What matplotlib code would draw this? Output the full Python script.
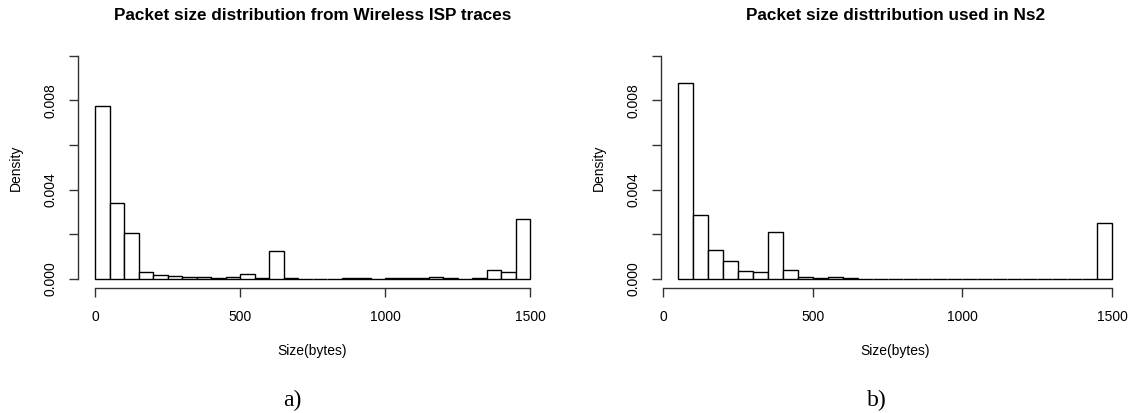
import numpy as np
import matplotlib.pyplot as plt

# bin layout (50-byte bins)
bin_width = 50
isp_start = 0
ns2_start = 50

# density per bin
isp_density = [0.00776, 0.00341, 0.00208, 0.00031, 0.00018, 0.000135, 0.00009, 0.00009,
               0.00006, 0.00009, 0.00022, 0.00003, 0.00127, 0.00003, 0.000015, 0.000015,
               0.000015, 0.000045, 0.00003, 0.000015, 0.000045, 0.00003, 0.000045, 0.000075,
               0.000045, 0.000015, 0.00003, 0.00042, 0.00031, 0.00271]
ns2_density = [0.00878, 0.00286, 0.00130, 0.00082, 0.00037, 0.00033, 0.00209, 0.00042,
               0.00009, 0.00006, 0.00009, 0.00003, 0.00002, 0.00002, 0.00001, 0.00001,
               0.00001, 0.00002, 0.00001, 0.00001, 0.00002, 0.00001, 0.00001, 0.00001,
               0.00001, 0.00001, 0.00001, 0.00001, 0.00250]

titles = ['Packet size distribution from Wireless ISP traces',
          'Packet size disttribution used in Ns2']
captions = ['a)', 'b)']
xticks = [0, 500, 1000, 1500]
yticks = [0.0, 0.002, 0.004, 0.006, 0.008, 0.010]
ytick_labels = ['0.000', '', '0.004', '', '0.008', '']

plt.rcParams['font.family'] = ['Liberation Sans', 'DejaVu Sans']

fig = plt.figure(figsize=(11.32, 4.13), dpi=100)
ax1 = fig.add_axes([0.0686, 0.3027, 0.415, 0.584])
ax2 = fig.add_axes([0.5837, 0.3027, 0.414, 0.584])

panels = [(ax1, isp_start, isp_density), (ax2, ns2_start, ns2_density)]
for i, (ax, start, dens) in enumerate(panels):
    lefts = start + bin_width * np.arange(len(dens))
    ax.bar(lefts, dens, width=bin_width, align='edge', color='white',
           edgecolor='black', linewidth=1.0)
    span = 1500 - start
    ax.set_xlim(start - 0.04 * span, 1500 + 0.04 * span)
    ax.set_ylim(-0.0004, 0.0104)

    for s in ['top', 'right']:
        ax.spines[s].set_visible(False)
    ax.spines['left'].set_bounds(0, 0.010)
    ax.spines['bottom'].set_bounds(0, 1500)
    for s in ['left', 'bottom']:
        ax.spines[s].set_color('#333333')
        ax.spines[s].set_linewidth(1.0)

    ax.set_xticks(xticks)
    ax.set_yticks(yticks)
    ax.set_yticklabels(ytick_labels, rotation=90, va='center')
    ax.tick_params(axis='both', direction='out', length=6.5, width=1.0,
                   color='#333333', labelsize=10, pad=8)
    ax.tick_params(axis='x', pad=9)

    ax.set_xlabel('Size(bytes)', fontsize=10, labelpad=14.5)
    ax.set_ylabel('Density', fontsize=10, labelpad=15)
    ax.set_title(titles[i], fontsize=12.3, fontweight='bold', pad=19)

fig.text(0.258, 0.031, captions[0], ha='center', va='center',
         family='Liberation Serif', fontsize=17)
fig.text(0.775, 0.031, captions[1], ha='center', va='center',
         family='Liberation Serif', fontsize=17)

fig.savefig('out.png', dpi=100)
